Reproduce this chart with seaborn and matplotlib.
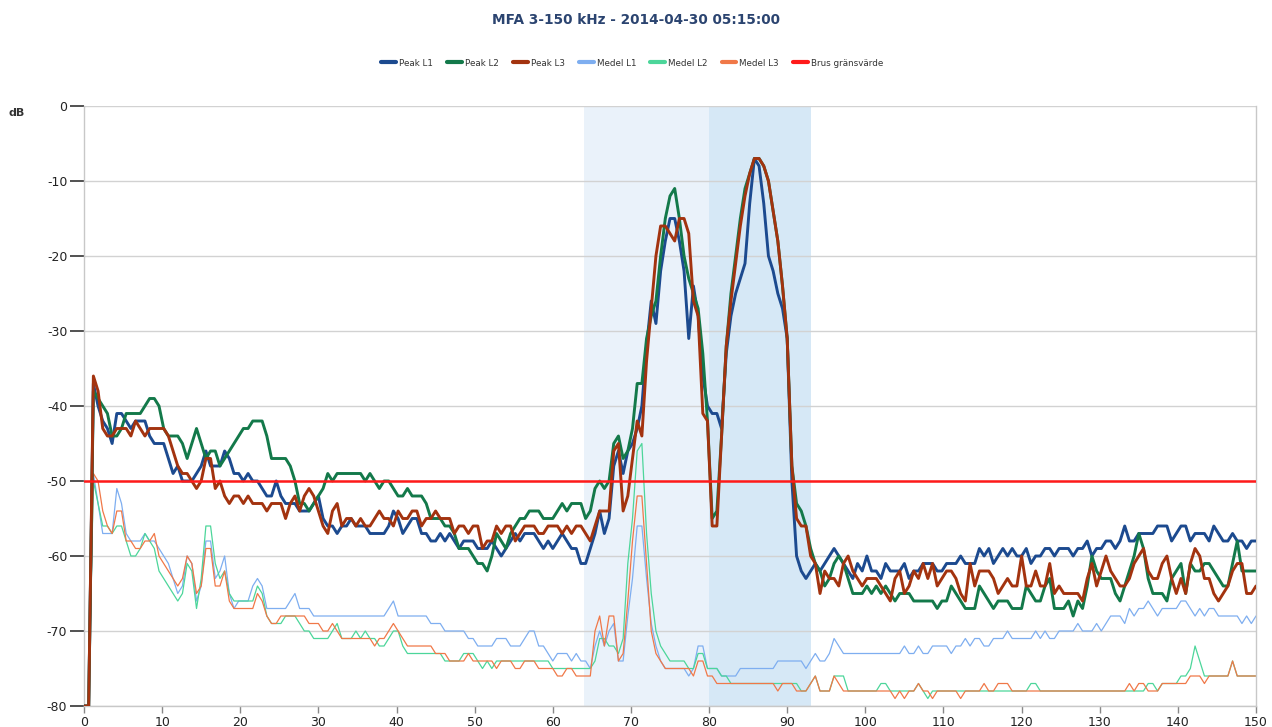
import numpy as np
import pandas as pd
import matplotlib
matplotlib.use("Agg")
import matplotlib.pyplot as plt
import seaborn as sns

# ---------------- data (frequency step 0.6 kHz, 0..150 kHz) ----------------
FREQ_STEP = 0.6

PEAK_L1 = [
    -80, -80, -37, -40, -42, -43, -45, -41, -41, -42,
    -43, -42, -42, -42, -44, -45, -45, -45, -47, -49,
    -48, -50, -50, -50, -49, -48, -46, -48, -48, -48,
    -46, -47, -49, -49, -50, -49, -50, -50, -51, -52,
    -52, -50, -52, -53, -53, -53, -54, -54, -54, -53,
    -52, -55, -56, -56, -57, -56, -56, -55, -56, -56,
    -56, -57, -57, -57, -57, -56, -54, -55, -57, -56,
    -55, -55, -57, -57, -58, -58, -57, -58, -57, -58,
    -59, -58, -58, -58, -59, -59, -59, -58, -59, -60,
    -59, -58, -57, -58, -57, -57, -57, -58, -59, -58,
    -59, -58, -57, -58, -59, -59, -61, -61, -59, -57,
    -54, -57, -55, -48, -46, -49, -46, -45, -43, -40,
    -32, -26, -29, -22, -18, -15, -15, -18, -22, -31,
    -24, -28, -36, -40, -41, -41, -43, -33, -28, -25,
    -23, -21, -13, -7, -8, -13, -20, -22, -25, -27,
    -31, -50, -60, -62, -63, -62, -61, -62, -61, -60,
    -59, -60, -61, -62, -63, -61, -62, -60, -62, -62,
    -63, -61, -62, -62, -62, -61, -63, -62, -62, -61,
    -61, -61, -62, -62, -61, -61, -61, -60, -61, -61,
    -61, -59, -60, -59, -61, -60, -59, -60, -59, -60,
    -60, -59, -61, -60, -60, -59, -59, -60, -59, -59,
    -59, -60, -59, -59, -58, -60, -59, -59, -58, -58,
    -59, -58, -56, -58, -58, -57, -57, -57, -57, -56,
    -56, -56, -58, -57, -56, -56, -58, -57, -57, -57,
    -58, -56, -57, -58, -58, -57, -58, -58, -59, -58,
    -58,
]

PEAK_L2 = [
    -80, -80, -38, -39, -40, -41, -44, -44, -43, -41,
    -41, -41, -41, -40, -39, -39, -40, -43, -44, -44,
    -44, -45, -47, -45, -43, -45, -47, -46, -46, -48,
    -47, -46, -45, -44, -43, -43, -42, -42, -42, -44,
    -47, -47, -47, -47, -48, -50, -53, -53, -54, -53,
    -52, -51, -49, -50, -49, -49, -49, -49, -49, -49,
    -50, -49, -50, -51, -50, -50, -51, -52, -52, -51,
    -52, -52, -52, -53, -55, -55, -55, -56, -56, -57,
    -59, -59, -59, -60, -61, -61, -62, -60, -57, -58,
    -59, -57, -56, -55, -55, -54, -54, -54, -55, -55,
    -55, -54, -53, -54, -53, -53, -53, -55, -54, -51,
    -50, -51, -50, -45, -44, -47, -46, -43, -37, -37,
    -31, -28, -26, -20, -15, -12, -11, -15, -20, -23,
    -25, -27, -33, -42, -55, -54, -44, -32, -25, -20,
    -15, -11, -9, -7, -7, -8, -10, -14, -18, -24,
    -31, -48, -53, -54, -56, -59, -61, -62, -64, -63,
    -61, -60, -61, -63, -65, -65, -65, -64, -65, -64,
    -65, -64, -65, -66, -65, -65, -65, -66, -66, -66,
    -66, -66, -67, -66, -66, -64, -65, -66, -67, -67,
    -67, -64, -65, -66, -67, -66, -66, -66, -67, -67,
    -67, -64, -65, -66, -66, -64, -63, -67, -67, -67,
    -66, -68, -66, -67, -64, -60, -62, -63, -63, -63,
    -65, -66, -64, -62, -60, -57, -59, -63, -65, -65,
    -65, -66, -63, -62, -61, -65, -61, -62, -62, -61,
    -61, -62, -63, -64, -64, -61, -58, -62, -62, -62,
    -62,
]

PEAK_L3 = [
    -80, -80, -36, -38, -43, -44, -44, -43, -43, -43,
    -44, -42, -43, -44, -43, -43, -43, -43, -44, -46,
    -48, -49, -49, -50, -51, -50, -47, -47, -51, -50,
    -52, -53, -52, -52, -53, -52, -53, -53, -53, -54,
    -53, -53, -53, -55, -53, -52, -54, -52, -51, -52,
    -54, -56, -57, -54, -53, -56, -55, -55, -56, -55,
    -56, -56, -55, -54, -55, -55, -56, -54, -55, -55,
    -54, -54, -56, -55, -55, -54, -55, -55, -55, -57,
    -56, -56, -57, -56, -56, -59, -58, -58, -56, -57,
    -56, -56, -58, -57, -56, -56, -56, -57, -57, -56,
    -56, -56, -57, -56, -57, -56, -56, -57, -58, -56,
    -54, -54, -54, -46, -45, -54, -52, -47, -42, -44,
    -34, -27, -20, -16, -16, -17, -18, -15, -15, -17,
    -26, -28, -41, -42, -56, -56, -44, -32, -26, -21,
    -16, -12, -9, -7, -7, -8, -10, -14, -18, -24,
    -31, -48, -55, -56, -56, -60, -61, -65, -62, -63,
    -63, -64, -61, -60, -62, -63, -64, -63, -63, -63,
    -64, -65, -66, -63, -62, -65, -64, -62, -63, -61,
    -63, -61, -64, -63, -62, -62, -63, -65, -66, -61,
    -64, -62, -62, -62, -63, -65, -64, -63, -64, -64,
    -60, -64, -64, -62, -64, -64, -61, -65, -64, -65,
    -65, -65, -65, -66, -63, -61, -64, -62, -60, -62,
    -63, -64, -64, -63, -61, -60, -59, -62, -63, -63,
    -61, -60, -63, -65, -63, -65, -61, -59, -60, -63,
    -63, -65, -66, -65, -64, -62, -61, -61, -65, -65,
    -64,
]

MEDEL_L1 = [
    -80, -80, -49, -53, -57, -57, -57, -51, -53, -57,
    -58, -58, -58, -57, -58, -58, -59, -60, -61, -63,
    -65, -64, -60, -61, -66, -64, -58, -58, -63, -62,
    -60, -65, -67, -66, -66, -66, -64, -63, -64, -67,
    -67, -67, -67, -67, -66, -65, -67, -67, -67, -68,
    -68, -68, -68, -68, -68, -68, -68, -68, -68, -68,
    -68, -68, -68, -68, -68, -67, -66, -68, -68, -68,
    -68, -68, -68, -68, -69, -69, -69, -70, -70, -70,
    -70, -70, -71, -71, -72, -72, -72, -72, -71, -71,
    -71, -72, -72, -72, -71, -70, -70, -72, -72, -73,
    -74, -73, -73, -73, -74, -73, -74, -74, -75, -72,
    -70, -72, -70, -69, -74, -74, -68, -63, -56, -56,
    -63, -69, -72, -74, -75, -75, -75, -75, -75, -76,
    -75, -72, -72, -75, -75, -75, -76, -76, -76, -76,
    -75, -75, -75, -75, -75, -75, -75, -75, -74, -74,
    -74, -74, -74, -74, -75, -74, -73, -74, -74, -73,
    -71, -72, -73, -73, -73, -73, -73, -73, -73, -73,
    -73, -73, -73, -73, -73, -72, -73, -73, -72, -73,
    -73, -72, -72, -72, -72, -73, -72, -72, -71, -72,
    -71, -71, -72, -72, -71, -71, -71, -70, -71, -71,
    -71, -71, -71, -70, -71, -70, -71, -71, -70, -70,
    -70, -70, -69, -70, -70, -70, -69, -70, -69, -68,
    -68, -68, -69, -67, -68, -67, -67, -66, -67, -68,
    -67, -67, -67, -67, -66, -66, -67, -68, -67, -68,
    -67, -67, -68, -68, -68, -68, -68, -69, -68, -69,
    -68,
]

MEDEL_L2 = [
    -80, -80, -50, -53, -56, -56, -57, -56, -56, -58,
    -60, -60, -59, -57, -58, -59, -62, -63, -64, -65,
    -66, -65, -61, -62, -67, -63, -56, -56, -61, -63,
    -62, -65, -66, -66, -66, -66, -66, -64, -65, -68,
    -69, -69, -69, -68, -68, -68, -69, -70, -70, -71,
    -71, -71, -71, -70, -69, -71, -71, -71, -70, -71,
    -70, -71, -71, -72, -72, -71, -70, -70, -72, -73,
    -73, -73, -73, -73, -73, -73, -73, -74, -74, -74,
    -74, -73, -73, -73, -74, -75, -74, -75, -74, -74,
    -74, -74, -74, -74, -74, -74, -74, -74, -74, -74,
    -75, -75, -75, -75, -75, -75, -75, -75, -75, -74,
    -71, -71, -72, -72, -73, -71, -61, -55, -46, -45,
    -57, -65, -70, -72, -73, -74, -74, -74, -74, -75,
    -75, -73, -73, -75, -75, -75, -76, -76, -77, -77,
    -77, -77, -77, -77, -77, -77, -77, -77, -77, -77,
    -77, -77, -77, -78, -78, -77, -76, -78, -78, -78,
    -76, -76, -76, -78, -78, -78, -78, -78, -78, -78,
    -77, -77, -78, -78, -78, -78, -78, -78, -77, -78,
    -79, -78, -78, -78, -78, -78, -78, -78, -78, -78,
    -78, -78, -78, -78, -78, -78, -78, -78, -78, -78,
    -78, -78, -77, -77, -78, -78, -78, -78, -78, -78,
    -78, -78, -78, -78, -78, -78, -78, -78, -78, -78,
    -78, -78, -78, -78, -78, -78, -78, -77, -77, -78,
    -77, -77, -77, -77, -76, -76, -75, -72, -74, -76,
    -76, -76, -76, -76, -76, -74, -76, -76, -76, -76,
    -76,
]

MEDEL_L3 = [
    -80, -80, -49, -50, -54, -56, -57, -54, -54, -58,
    -58, -59, -59, -58, -58, -57, -60, -61, -62, -63,
    -64, -63, -60, -61, -65, -64, -59, -59, -64, -64,
    -62, -66, -67, -67, -67, -67, -67, -65, -66, -68,
    -69, -69, -68, -68, -68, -68, -68, -68, -69, -69,
    -69, -70, -70, -69, -70, -71, -71, -71, -71, -71,
    -71, -71, -72, -71, -71, -70, -69, -70, -71, -72,
    -72, -72, -72, -72, -72, -73, -73, -73, -74, -74,
    -74, -74, -73, -74, -74, -74, -74, -74, -75, -74,
    -74, -74, -75, -75, -74, -74, -74, -75, -75, -75,
    -75, -76, -76, -75, -75, -76, -76, -76, -76, -70,
    -68, -72, -68, -68, -74, -73, -66, -58, -52, -52,
    -61, -70, -73, -74, -75, -75, -75, -75, -75, -75,
    -76, -74, -74, -76, -76, -77, -77, -77, -77, -77,
    -77, -77, -77, -77, -77, -77, -77, -77, -78, -77,
    -77, -77, -78, -78, -78, -77, -76, -78, -78, -78,
    -76, -77, -78, -78, -78, -78, -78, -78, -78, -78,
    -78, -78, -78, -79, -78, -79, -78, -78, -77, -78,
    -78, -79, -78, -78, -78, -78, -78, -79, -78, -78,
    -78, -78, -77, -78, -78, -77, -77, -77, -78, -78,
    -78, -78, -78, -78, -78, -78, -78, -78, -78, -78,
    -78, -78, -78, -78, -78, -78, -78, -78, -78, -78,
    -78, -78, -78, -77, -78, -77, -77, -78, -78, -78,
    -77, -77, -77, -77, -77, -77, -76, -76, -76, -77,
    -76, -76, -76, -76, -76, -74, -76, -76, -76, -76,
    -76,
]

BRUS_LIMIT = -50
SHADE_1 = (64, 80)
SHADE_2 = (80, 93)

SERIES_NAMES = ["Peak L1", "Peak L2", "Peak L3", "Medel L1", "Medel L2", "Medel L3"]
SERIES_VALUES = [PEAK_L1, PEAK_L2, PEAK_L3, MEDEL_L1, MEDEL_L2, MEDEL_L3]
SERIES_COLORS = ["#1c4a8f", "#13794a", "#a3330f", "#7eaef0", "#4cd69a", "#f07848"]
SERIES_WIDTHS = [2.1, 2.1, 2.1, 0.9, 0.9, 0.9]

TITLE = "MFA 3-150 kHz - 2014-04-30 05:15:00"
Y_TICKS = [0, -10, -20, -30, -40, -50, -60, -70, -80]
X_TICKS = list(range(0, 151, 10))

for v in SERIES_VALUES:
    assert len(v) == 251, len(v)

# ---------------- plotting ----------------
sns.set_style("white")
plt.rcParams["font.family"] = ["DejaVu Sans"]
plt.rcParams["axes.unicode_minus"] = False

fig = plt.figure(figsize=(12.72, 7.27), dpi=100)
ax = fig.add_axes([84 / 1272, 1 - 706 / 727, (1256 - 84) / 1272, 600 / 727])

ax.axvspan(*SHADE_1, color="#eaf2fa", zorder=0, lw=0)
ax.axvspan(*SHADE_2, color="#d6e8f6", zorder=0, lw=0)

for yv in Y_TICKS:
    ax.axhline(yv, color="#d2d2d2", lw=1.0, zorder=0.5)

frames = []
for name, vals in zip(SERIES_NAMES, SERIES_VALUES):
    x = np.arange(len(vals)) * FREQ_STEP
    frames.append(pd.DataFrame({"kHz": x, "dB": vals, "serie": name}))
df = pd.concat(frames, ignore_index=True)

for name, col, lw in zip(SERIES_NAMES, SERIES_COLORS, SERIES_WIDTHS):
    sub = df[df["serie"] == name]
    sns.lineplot(data=sub, x="kHz", y="dB", ax=ax, color=col, linewidth=lw,
                 label=name, sort=False, estimator=None, zorder=3 if lw > 1.5 else 2)

ax.axhline(BRUS_LIMIT, color="#ff1a1a", lw=1.8, zorder=4, label="Brus gränsvärde")

ax.set_xlim(0, 150)
ax.set_ylim(-80, 0)
ax.set_xticks(X_TICKS)
ax.set_yticks(Y_TICKS)
ax.set_xlabel("")
ax.set_ylabel("")
ax.tick_params(axis="y", length=10, width=1.2, color="#333333", labelsize=9,
               labelcolor="#222222", pad=2, left=True)
ax.tick_params(axis="x", length=5, width=1.0, color="#888888", labelsize=9,
               labelcolor="#222222", pad=2, bottom=True)
for s in ["left", "right", "bottom"]:
    ax.spines[s].set_color("#c8c8c8")
    ax.spines[s].set_linewidth(1.0)
ax.spines["top"].set_visible(False)

handles, labels = ax.get_legend_handles_labels()
if ax.get_legend() is not None:
    ax.get_legend().remove()
leg = fig.legend(handles, labels, loc="center", bbox_to_anchor=(0.497, 1 - 63 / 727),
                 ncol=7, frameon=False, fontsize=6.3, handlelength=1.7,
                 handletextpad=0.35, columnspacing=1.6)
for h in leg.get_lines():
    h.set_linewidth(3)
for t in leg.get_texts():
    t.set_color("#333333")

fig.text(0.5, 1 - 20 / 727, TITLE, ha="center", va="center", fontsize=9.8,
         fontweight="bold", color="#2b4470")
fig.text(17 / 1272, 1 - 113 / 727, "dB", ha="center", va="center", fontsize=8,
         fontweight="bold", color="#333333")

fig.savefig("out.png", dpi=100, facecolor="white")
